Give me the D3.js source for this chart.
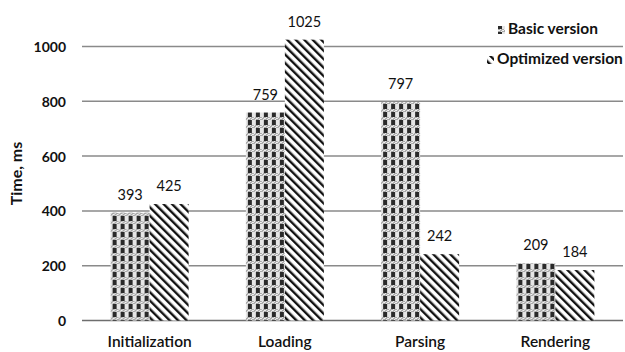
<!DOCTYPE html>
<html>
<head>
<meta charset="utf-8">
<script src="https://cdn.jsdelivr.net/npm/d3@7"></script>
<style>
  html, body { margin: 0; padding: 0; background: #fff; }
  svg { display: block; font-family: Lato, "Open Sans", sans-serif; }
</style>
</head>
<body>
<svg id="chart" width="625" height="352"></svg>
<script>
// Stage timings, ms
const categories = ["Initialization", "Loading", "Parsing", "Rendering"];
const seriesNames = ["Basic version", "Optimized version"];
const basicValues = [393, 759, 797, 209];
const optimizedValues = [425, 1025, 242, 184];
const yTicks = [0, 200, 400, 600, 800, 1000];

const svg = d3.select("#chart");
const margin = { top: 46.5, right: 2, bottom: 31.5, left: 82 };
const W = 625, H = 352;

const x = d3.scaleBand().domain(categories).range([margin.left, W - margin.right]);
const xs = d3.scaleBand().domain(seriesNames).range([0, 78]);
const y = d3.scaleLinear().domain([0, 1000]).range([H - margin.bottom, margin.top]);

// Fill patterns
const defs = svg.append("defs");
const chk = defs.append("pattern").attr("id", "pat-basic")
  .attr("patternUnits", "userSpaceOnUse").attr("width", 8).attr("height", 8);
chk.append("rect").attr("width", 8).attr("height", 8).attr("fill", "#e6e6e6");
chk.append("rect").attr("x", 0).attr("y", 5).attr("width", 8).attr("height", 3).attr("fill", "#a9a9a9");
for (let i = 0; i < 8; i += 2) {
  chk.append("rect").attr("x", i).attr("y", 5 + (i % 4 === 0 ? 0 : 1)).attr("width", 1).attr("height", 1).attr("fill", "#f2f2f2");
  chk.append("rect").attr("x", i + 1).attr("y", 6 + (i % 4 === 0 ? 1 : 0)).attr("width", 1).attr("height", 1).attr("fill", "#f2f2f2");
}
chk.append("rect").attr("x", 2).attr("y", 0).attr("width", 4).attr("height", 5).attr("fill", "#2a2a2a");

const stripe = defs.append("pattern").attr("id", "pat-opt")
  .attr("patternUnits", "userSpaceOnUse").attr("width", 6).attr("height", 6)
  .attr("patternTransform", "rotate(-45)");
stripe.append("rect").attr("width", 6).attr("height", 6).attr("fill", "#fff");
stripe.append("rect").attr("x", 0).attr("y", 0).attr("width", 2.4).attr("height", 6).attr("fill", "#111");

// Gridlines
svg.append("g").selectAll("line").data(yTicks).join("line")
  .attr("x1", margin.left).attr("x2", W - margin.right)
  .attr("y1", d => y(d)).attr("y2", d => y(d))
  .attr("stroke", d => d === 0 ? "#6e6e6e" : "#8a8a8a")
  .attr("stroke-width", 1.5);

// Y axis labels
const yAxis = d3.axisLeft(y).tickValues(yTicks).tickSize(0).tickPadding(0).tickFormat(d3.format("d"));
const ya = svg.append("g").attr("transform", `translate(${margin.left - 16},0)`).call(yAxis);
ya.select(".domain").remove();
ya.selectAll("text").attr("font-size", 14).attr("font-weight", 700).attr("fill", "#111")
  .attr("font-family", "Lato, sans-serif").attr("dy", "0.36em");

svg.append("text")
  .attr("transform", `translate(22,${(y(0) + y(1000)) / 2 - 10}) rotate(-90)`)
  .attr("text-anchor", "middle").attr("font-size", 16).attr("font-weight", 700).attr("fill", "#111")
  .text("Time, ms");

// Bars
const rows = categories.map((c, i) => ({ cat: c, vals: [basicValues[i], optimizedValues[i]] }));
const fills = ["url(#pat-basic)", "url(#pat-opt)"];
const groups = svg.append("g").selectAll("g").data(rows).join("g")
  .attr("transform", d => `translate(${x(d.cat) + x.bandwidth() / 2 - 39},0)`);
groups.selectAll("rect").data(d => d.vals.map((v, k) => ({ v, k }))).join("rect")
  .attr("x", d => xs(seriesNames[d.k]))
  .attr("width", xs.bandwidth())
  .attr("y", d => y(d.v))
  .attr("height", d => y(0) - y(d.v))
  .attr("fill", d => fills[d.k]);
groups.selectAll("text").data(d => d.vals.map((v, k) => ({ v, k }))).join("text")
  .attr("x", d => xs(seriesNames[d.k]) + xs.bandwidth() / 2)
  .attr("y", d => y(d.v) - 13)
  .attr("text-anchor", "middle").attr("font-size", 14.5).attr("fill", "#111")
  .text(d => d.v);

// Category labels
const xAxis = d3.axisBottom(x).tickSize(0).tickPadding(0);
const xa = svg.append("g").attr("transform", `translate(0,${H - 5})`).call(xAxis);
xa.select(".domain").remove();
xa.selectAll("text").attr("dy", 0).attr("font-size", 15.5).attr("font-weight", 600).attr("fill", "#111")
  .attr("font-family", "Lato, sans-serif");

// Legend
const legend = svg.append("g");
const legendItems = [
  { name: seriesNames[0], fill: fills[0], ix: 498, tx: 508, ty: 34 },
  { name: seriesNames[1], fill: fills[1], ix: 487, tx: 497, ty: 64 }
];
legend.selectAll("rect").data(legendItems).join("rect")
  .attr("x", d => d.ix).attr("y", d => d.ty - 8).attr("width", 7).attr("height", 8)
  .attr("fill", d => d.fill);
legend.selectAll("text").data(legendItems).join("text")
  .attr("x", d => d.tx).attr("y", d => d.ty)
  .attr("font-size", 15.5).attr("font-weight", 700).attr("fill", "#111")
  .text(d => d.name);
</script>
</body>
</html>
